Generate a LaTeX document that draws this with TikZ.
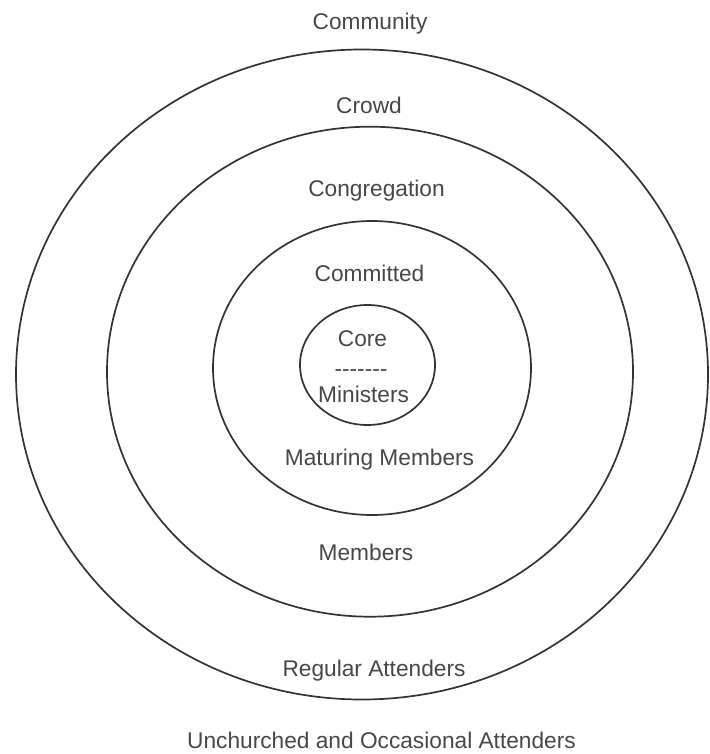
\documentclass[tikz,border=0pt]{standalone}
\usepackage{fontspec}
\setmainfont{Liberation Sans}
\usetikzlibrary{shapes.geometric}
\begin{document}
\begin{tikzpicture}[x=1pt,y=-1pt,
  ring/.style={ellipse,draw=black!80,line width=1.7pt,inner sep=0pt,outer sep=0pt},
  lbl/.style={anchor=base,inner sep=0pt,text=black!72,font=\fontsize{22.7}{26}\selectfont}]
\useasboundingbox (0,0) rectangle (709,754);
\node[ring,minimum width=692pt,minimum height=650pt] (community) at (362,374.5) {};
\node[ring,minimum width=526pt,minimum height=490pt] (crowd) at (370,371.7) {};
\node[ring,minimum width=318pt,minimum height=294pt] (committed) at (372,368) {};
\node[ring,minimum width=135pt,minimum height=120pt] (core) at (367.5,365) {};
\node[lbl] (tcommunity) at (370,29.5) {Community};
\node[lbl] (tcrowd) at (369,114) {Crowd};
\node[lbl] (tcongregation) at (376.5,196.7) {Congregation};
\node[lbl] (tcommitted) at (369.5,281.7) {Committed};
\node[lbl] (tcore) at (362.5,346.7) {Core};
\node[lbl] (tdash) at (361,376) {-{}-{}-{}-{}-{}-{}-};
\node[lbl] (tministers) at (363.6,402.7) {Ministers};
\node[lbl] (tmaturing) at (379.5,465) {Maturing Members};
\node[lbl] (tmembers) at (366,560) {Members};
\node[lbl] (tregular) at (374,676) {Regular Attenders};
\node[lbl] (tunchurched) at (381.5,748) {Unchurched and Occasional Attenders};
\end{tikzpicture}
\end{document}
